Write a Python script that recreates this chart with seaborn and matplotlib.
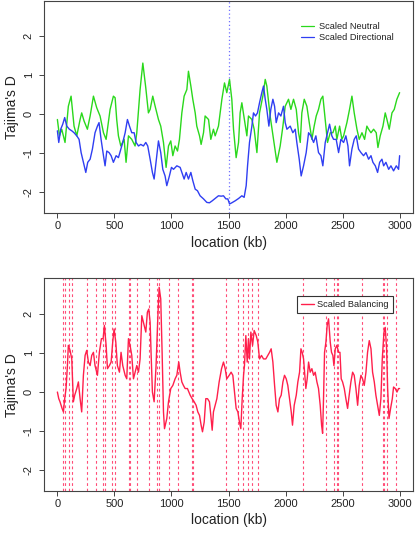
import matplotlib
matplotlib.use("Agg")
import matplotlib.pyplot as plt
import seaborn as sns
import pandas as pd

# ---- data (kb, Tajima's D) ----
neutral_kb = [0, 18, 38, 67, 96, 120, 146, 170, 199, 213, 234, 263, 287, 316, 345, 374, 404, 427,
              462, 491, 506, 520, 535, 556, 585, 602, 623, 652, 681, 696, 725, 749, 775, 798, 813,
              836, 857, 886, 906, 930, 953, 974, 994, 1012, 1032, 1053, 1070, 1091, 1111, 1135,
              1149, 1170, 1187, 1208, 1222, 1246, 1260, 1281, 1295, 1325, 1345, 1368, 1383, 1412,
              1442, 1465, 1485, 1509, 1529, 1544, 1567, 1588, 1602, 1617, 1637, 1661, 1675, 1705,
              1725, 1749, 1772, 1801, 1822, 1836, 1865, 1895, 1924, 1953, 1977, 1997, 2026, 2047,
              2070, 2094, 2114, 2129, 2143, 2164, 2187, 2208, 2231, 2251, 2269, 2289, 2310, 2327,
              2348, 2368, 2392, 2415, 2436, 2450, 2474, 2494, 2509, 2538, 2561, 2582, 2602, 2626,
              2646, 2670, 2693, 2713, 2728, 2749, 2772, 2795, 2810, 2830, 2854, 2874, 2889, 2909,
              2933, 2953, 2976, 3000]
neutral_d = [-0.14, -0.56, -0.39, -0.73, 0.20, 0.46, -0.31, -0.56, -0.14, 0.03, -0.18, -0.39, -0.05,
             0.46, 0.16, -0.05, -0.48, -0.65, 0.12, 0.46, 0.42, -0.14, -0.56, -0.82, -0.65, -1.24,
             -0.56, -0.65, -0.82, -0.48, 0.63, 1.31, 0.67, 0.03, 0.12, 0.46, 0.20, -0.14, -0.31,
             -0.73, -1.37, -0.82, -0.69, -1.07, -0.82, -0.95, -0.65, 0.03, 0.46, 0.63, 1.10, 0.72,
             0.38, 0.03, -0.31, -0.56, -0.78, -0.48, -0.05, -0.14, -0.65, -0.39, -0.56, -0.31, 0.38,
             0.80, 0.55, 0.89, 0.38, -0.39, -1.12, -0.73, 0.03, 0.29, -0.09, -0.56, -0.05, -0.14,
             -0.39, -0.99, 0.03, 0.46, 0.89, 0.72, -0.05, -0.65, -1.24, -0.82, -0.31, 0.20, 0.38,
             0.12, 0.38, 0.12, -0.48, -0.73, 0.03, 0.38, 0.20, -0.22, -0.65, -0.31, -0.05, 0.12,
             0.38, 0.46, -0.14, -0.73, -0.48, -0.48, -0.31, -0.65, -0.31, -0.65, -0.56, -0.22, 0.12,
             0.46, 0.03, -0.39, -0.65, -0.48, -0.65, -0.31, -0.39, -0.48, -0.39, -0.48, -0.86, -0.56,
             -0.31, 0.03, -0.14, -0.39, 0.03, 0.12, 0.38, 0.55]

directional_kb = [0, 12, 29, 47, 64, 82, 105, 126, 146, 170, 190, 208, 228, 249, 266, 287, 307, 330,
                  351, 365, 383, 404, 418, 433, 453, 471, 491, 515, 535, 556, 573, 594, 614, 632,
                  652, 673, 690, 711, 731, 754, 775, 792, 813, 833, 848, 865, 886, 906, 924, 944,
                  959, 982, 1000, 1018, 1047, 1076, 1096, 1111, 1129, 1149, 1170, 1187, 1208, 1228,
                  1251, 1281, 1310, 1333, 1357, 1383, 1412, 1436, 1456, 1477, 1494, 1509, 1529,
                  1558, 1588, 1617, 1637, 1655, 1667, 1684, 1705, 1719, 1737, 1754, 1772, 1792,
                  1807, 1822, 1836, 1854, 1871, 1889, 1904, 1918, 1939, 1959, 1982, 1997, 2012,
                  2041, 2064, 2085, 2099, 2120, 2137, 2158, 2181, 2202, 2222, 2246, 2266, 2289,
                  2310, 2327, 2348, 2368, 2386, 2406, 2421, 2444, 2465, 2485, 2509, 2529, 2547,
                  2561, 2582, 2602, 2620, 2640, 2661, 2684, 2705, 2728, 2749, 2766, 2787, 2807,
                  2825, 2845, 2860, 2880, 2904, 2924, 2947, 2971, 2991, 3000]
directional_d = [-0.43, -0.73, -0.39, -0.26, -0.09, -0.31, -0.39, -0.43, -0.48, -0.56, -0.65, -0.99,
                 -1.24, -1.50, -1.24, -1.16, -0.90, -0.48, -0.31, -0.22, -0.65, -1.07, -1.33, -0.95,
                 -0.99, -1.07, -1.24, -1.07, -1.12, -0.90, -0.73, -0.48, -0.14, -0.31, -0.48, -0.48,
                 -0.73, -0.82, -0.78, -0.82, -0.73, -0.82, -1.16, -1.50, -1.67, -1.24, -0.69, -0.99,
                 -1.42, -1.59, -1.84, -1.59, -1.37, -1.42, -1.33, -1.37, -1.54, -1.67, -1.50, -1.67,
                 -1.50, -1.71, -1.93, -1.97, -2.10, -2.18, -2.27, -2.28, -2.23, -2.17, -2.10, -2.11,
                 -2.10, -2.18, -2.18, -2.31, -2.28, -2.23, -2.17, -2.10, -2.14, -1.84, -1.33, -0.73,
                 -0.31, 0.03, -0.05, 0.03, 0.29, 0.55, 0.72, 0.38, 0.12, -0.31, 0.12, 0.38, 0.20,
                 -0.22, 0.03, -0.05, 0.20, -0.22, -0.39, -0.31, -0.48, -0.39, -0.73, -1.16, -1.59,
                 -1.33, -0.99, -0.48, -0.56, -0.73, -0.56, -0.99, -1.07, -1.33, -0.73, -0.48, -0.26,
                 -0.56, -0.65, -0.65, -0.99, -0.65, -0.73, -0.56, -0.82, -1.33, -0.90, -0.65, -0.56,
                 -0.90, -0.99, -1.07, -0.99, -1.16, -1.07, -1.24, -1.33, -1.50, -1.24, -1.16, -1.33,
                 -1.24, -1.42, -1.33, -1.46, -1.33, -1.42, -1.07]

balancing_kb = [0, 12, 23, 41, 53, 64, 76, 88, 96, 111, 126, 140, 152, 170, 184, 199, 213, 228, 243,
                257, 272, 287, 301, 316, 330, 351, 368, 386, 401, 412, 427, 439, 456, 471, 485, 497,
                512, 526, 544, 558, 573, 594, 608, 623, 637, 652, 667, 681, 696, 711, 725, 740, 754,
                775, 789, 801, 813, 822, 833, 848, 865, 880, 892, 906, 918, 930, 939, 959, 974, 994,
                1012, 1032, 1047, 1064, 1076, 1091, 1105, 1120, 1140, 1164, 1181, 1199, 1216, 1231,
                1246, 1260, 1272, 1287, 1301, 1316, 1333, 1345, 1357, 1368, 1383, 1398, 1418, 1439,
                1456, 1471, 1485, 1506, 1523, 1538, 1553, 1567, 1582, 1596, 1608, 1620, 1632, 1640,
                1652, 1664, 1675, 1684, 1696, 1711, 1725, 1743, 1757, 1772, 1789, 1807, 1827, 1845,
                1860, 1874, 1889, 1904, 1918, 1933, 1947, 1962, 1977, 1991, 2006, 2020, 2035, 2050,
                2061, 2076, 2094, 2108, 2123, 2135, 2146, 2158, 2167, 2178, 2190, 2202, 2216, 2231,
                2246, 2260, 2275, 2289, 2304, 2316, 2325, 2333, 2342, 2354, 2365, 2377, 2392, 2403,
                2415, 2424, 2436, 2450, 2465, 2477, 2488, 2500, 2515, 2529, 2544, 2558, 2573, 2588,
                2602, 2617, 2632, 2646, 2661, 2675, 2690, 2705, 2719, 2734, 2749, 2763, 2778, 2792,
                2807, 2822, 2836, 2848, 2863, 2874, 2886, 2895, 2907, 2921, 2936, 2947, 2962, 2977,
                2991, 3000]
balancing_d = [-0.01, -0.18, -0.26, -0.43, -0.52, -0.18, 0.08, 0.67, 1.19, 1.06, 0.84, -0.26, -0.09,
               0.08, 0.25, -0.18, -0.52, 0.42, 0.93, 1.06, 0.76, 0.67, 0.93, 1.01, 0.67, 0.42, 1.01,
               1.36, 1.36, 1.70, 1.19, 0.59, 0.67, 0.76, 1.27, 1.61, 1.27, 0.67, 0.50, 1.01, 0.67,
               0.42, 0.33, 1.36, 1.19, 0.93, 0.33, 0.50, 0.67, 0.50, 0.84, 1.95, 1.78, 1.53, 2.04,
               2.12, 1.78, 0.93, -0.01, -0.26, 0.67, 1.87, 2.68, 2.38, 1.01, -0.52, -0.95, -0.69,
               -0.26, 0.08, 0.16, 0.33, 0.42, 0.76, 0.50, 0.25, 0.16, 0.08, 0.08, -0.09, -0.18, -0.26,
               -0.35, -0.52, -0.61, -0.86, -1.03, -0.78, -0.18, -0.18, -0.26, -0.61, -0.99, -0.52,
               -0.35, -0.18, 0.25, 0.59, 0.76, 0.59, 0.33, 0.42, 0.50, 0.42, -0.01, -0.43, -0.52,
               -0.78, -0.95, -0.18, 0.42, 0.67, 1.44, 0.76, 1.36, 0.84, 1.53, 1.19, 1.57, 1.44, 1.27,
               0.84, 0.93, 0.84, 0.84, 0.93, 1.01, 1.10, 0.76, 0.16, -0.35, -0.52, -0.18, -0.09, 0.25,
               0.42, 0.33, 0.16, -0.18, -0.52, -0.86, -0.35, -0.09, 0.25, 0.50, 1.10, 1.01, 0.84,
               0.50, 0.08, 0.33, 0.76, 0.50, 0.59, 0.42, 0.50, 0.25, 0.08, -0.35, -0.86, -1.07, -0.18,
               1.01, 1.27, 1.70, 1.87, 1.27, 1.01, 0.93, 0.67, 1.10, 1.19, 1.01, 1.01, 0.33, 0.25,
               0.08, -0.18, -0.43, -0.09, 0.25, 0.50, 0.42, 0.08, -0.35, 0.16, 0.42, 0.33, 0.16, 0.50,
               1.01, 1.31, 1.10, 0.50, 0.25, -0.09, -0.35, -0.61, -0.18, 0.84, 1.53, 1.65, 1.10, 0.08,
               -0.69, -0.43, -0.18, 0.12, 0.08, -0.01, 0.08, 0.08]

# positions (kb) of the dashed markers in the lower panel
selected_sites = [53, 70, 105, 129, 258, 337, 404, 418, 477, 509, 632, 640, 696, 804, 877, 895,
                  976, 1058, 1178, 1193, 1474, 1585, 1629, 1675, 1702, 1761, 2149, 2351, 2424,
                  2448, 2462, 2667, 2851, 2860, 2886, 2965]
sweep_site = 1500

x_ticks = [0, 500, 1000, 1500, 2000, 2500, 3000]
y_ticks = [-2, -1, 0, 1, 2]

GREEN = "#2ad81c"
BLUE = "#2f3ef2"
RED = "#ff1f4b"

sns.set_style("ticks")
plt.rcParams["font.family"] = ["Liberation Sans", "DejaVu Sans"]

W, H = 415, 534
fig = plt.figure(figsize=(W / 100, H / 100), dpi=100)


def px_axes(left, top, right, bottom):
    return fig.add_axes([left / W, 1 - bottom / H, (right - left) / W, (bottom - top) / H])


def style_axes(ax):
    ax.set_xlim(-120, 3120)
    ax.set_ylim(-2.55, 2.91)
    ax.set_xticks(x_ticks)
    ax.set_yticks(y_ticks)
    ax.set_xticklabels([str(t) for t in x_ticks])
    ax.set_yticklabels([str(t) for t in y_ticks])
    for s in ax.spines.values():
        s.set_visible(True)
        s.set_color("#444444")
        s.set_linewidth(0.8)
    ax.tick_params(axis="both", direction="out", length=3.6, width=0.7,
                   color="#444444", labelsize=8, labelcolor="#222222")
    ax.tick_params(axis="x", pad=2)
    ax.tick_params(axis="y", pad=3.5, labelrotation=90)
    for lab in ax.get_yticklabels():
        lab.set_va("center")
    ax.set_xlabel("location (kb)", fontsize=10, color="#222222")
    ax.set_ylabel("Tajima's D", fontsize=10, color="#222222")
    ax.xaxis.set_label_coords(0.5, -0.105)
    ax.yaxis.set_label_coords(-0.066, 0.5)


# ---- top panel ----
ax1 = px_axes(43.7, 0.8, 413.3, 213.3)
top_df = pd.concat([
    pd.DataFrame({"kb": neutral_kb, "D": neutral_d, "series": "Scaled Neutral"}),
    pd.DataFrame({"kb": directional_kb, "D": directional_d, "series": "Scaled Directional"}),
])
ax1.axvline(sweep_site, color="#6f6fff", lw=0.9, ls=(0, (1, 2)), zorder=1)
sns.lineplot(data=top_df, x="kb", y="D", hue="series",
             palette={"Scaled Neutral": GREEN, "Scaled Directional": BLUE},
             lw=1.0, estimator=None, sort=False, ax=ax1, zorder=2)
style_axes(ax1)
leg1 = ax1.legend(loc="upper left", bbox_to_anchor=(0.695, 0.901), frameon=False,
                  fontsize=6.7, handlelength=1.45, handletextpad=0.55, labelspacing=0.25,
                  borderaxespad=0, borderpad=0)
for t in leg1.get_texts():
    t.set_color("#222222")
for h in leg1.get_lines():
    h.set_linewidth(0.9)

# ---- bottom panel ----
ax2 = px_axes(43.7, 278.3, 413.3, 491)
for s in selected_sites:
    ax2.axvline(s, color="#ff4d78", lw=0.8, ls=(0, (2.5, 2.5)), zorder=1)
bal_df = pd.DataFrame({"kb": balancing_kb, "D": balancing_d})
sns.lineplot(data=bal_df, x="kb", y="D", color=RED, lw=1.0, estimator=None,
             sort=False, label="Scaled Balancing", ax=ax2, zorder=2)
style_axes(ax2)
leg2 = ax2.legend(loc="upper left", bbox_to_anchor=(0.686, 0.918), frameon=True,
                  fontsize=6.7, handlelength=1.4, handletextpad=0.3, borderaxespad=0,
                  borderpad=0.45, fancybox=False, framealpha=1)
leg2.get_frame().set_edgecolor("#333333")
leg2.get_frame().set_linewidth(0.8)
for t in leg2.get_texts():
    t.set_color("#222222")

fig.savefig("out.png", dpi=100)
